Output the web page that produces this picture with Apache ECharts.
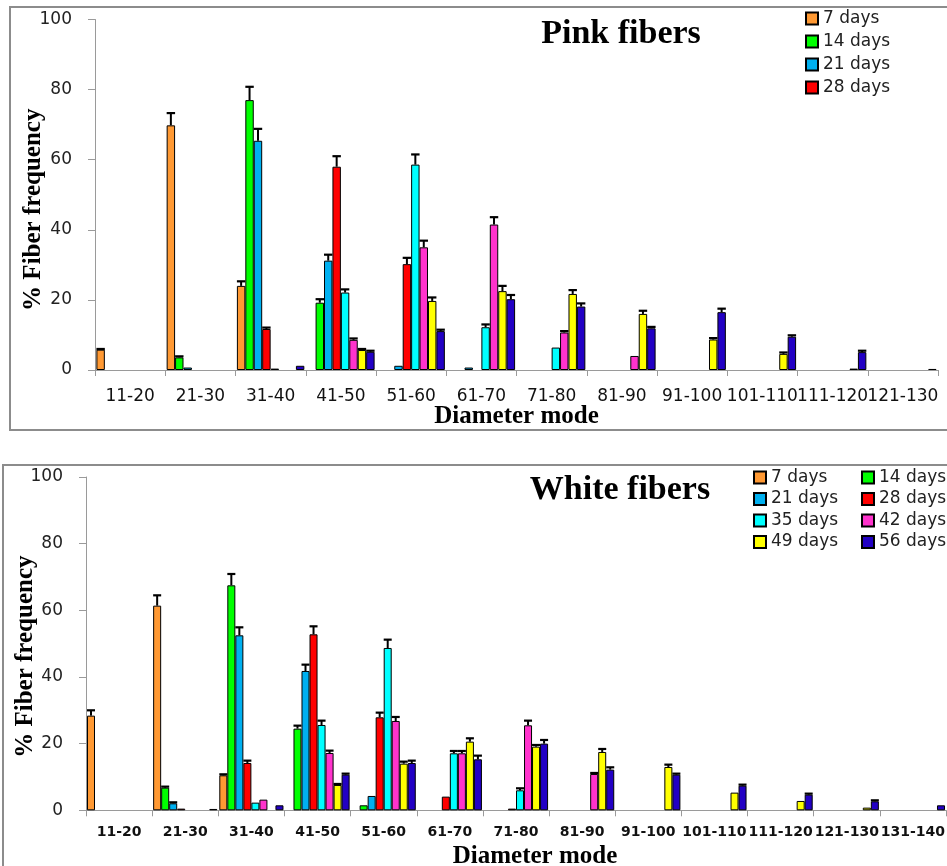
<!DOCTYPE html>
<html>
<head>
<meta charset="utf-8">
<script src="https://cdn.jsdelivr.net/npm/echarts@6/dist/echarts.min.js"></script>
<style>html,body{margin:0;padding:0;background:#fff;}#c{width:947px;height:866px;}</style>
</head>
<body>
<div id="c"></div>
<script>
// ---------- data ----------
const seriesNames = ['7 days','14 days','21 days','28 days','35 days','42 days','49 days','56 days'];
const seriesColors = ['#FF9933','#00FF00','#00B0F0','#FF0000','#00FFFF','#FF33CC','#FFFF00','#2200C4'];

const pinkCategories = ['11-20','21-30','31-40','41-50','51-60','61-70','71-80','81-90','91-100','101-110','111-120','121-130'];
const pink7  = [5.8, 69.8, 24.0, 0, 0, 0, 0, 0, 0, 0, 0, 0];
const pink14 = [0, 3.6, 77.0, 19.2, 0, 0, 0, 0, 0, 0, 0, 0];
const pink21 = [0, 0.7, 65.4, 31.2, 1.2, 0.7, 0, 0, 0, 0, 0, 0];
const pink28 = [0, 0, 11.7, 58.0, 30.2, 0, 0, 0, 0, 0, 0, 0];
const pink35 = [0, 0, 0.4, 22.1, 58.6, 12.2, 6.4, 0, 0, 0, 0, 0];
const pink42 = [0, 0, 0, 8.6, 35.0, 41.5, 10.7, 4.0, 0, 0, 0, 0];
const pink49 = [0, 0, 0, 5.7, 19.7, 22.5, 21.7, 16.0, 8.7, 4.6, 0.4, 0];
const pink56 = [0, 0, 1.2, 5.2, 11.1, 20.2, 18.1, 11.9, 16.5, 9.5, 5.1, 0.3];

const pinkErr7  = [0.2, 3.5, 1.3, null, null, null, null, null, null, null, null, null];
const pinkErr14 = [null, 0.3, 3.8, 1.0, null, null, null, null, null, null, null, null];
const pinkErr21 = [null, null, 3.4, 1.7, null, null, null, null, null, null, null, null];
const pinkErr28 = [null, null, 0.4, 3.0, 1.8, null, null, null, null, null, null, null];
const pinkErr35 = [null, null, null, 0.9, 2.9, 0.8, null, null, null, null, null, null];
const pinkErr42 = [null, null, null, 0.4, 1.9, 2.1, 0.4, null, null, null, null, null];
const pinkErr49 = [null, null, null, 0.3, 1.0, 1.5, 1.1, 0.9, 0.4, 0.4, null, null];
const pinkErr56 = [null, null, null, 0.3, 0.4, 1.2, 0.9, 0.4, 1.0, 0.4, 0.4, null];

const whiteCategories = ['11-20','21-30','31-40','41-50','51-60','61-70','71-80','81-90','91-100','101-110','111-120','121-130','131-140'];
const white7  = [28.4, 61.4, 10.5, 0, 0, 0, 0, 0, 0, 0, 0, 0, 0];
const white14 = [0, 6.8, 67.5, 24.5, 1.5, 0, 0, 0, 0, 0, 0, 0, 0];
const white21 = [0, 2.1, 52.5, 41.8, 4.3, 0, 0, 0, 0, 0, 0, 0, 0];
const white28 = [0, 0.5, 14.2, 52.8, 27.9, 4.1, 0.5, 0, 0, 0, 0, 0, 0];
const white35 = [0, 0, 2.3, 25.6, 48.7, 17.1, 6.0, 0, 0, 0, 0, 0, 0];
const white42 = [0, 0, 3.2, 17.2, 26.8, 17.1, 25.5, 10.9, 0, 0, 0, 0, 0];
const white49 = [0, 0, 0, 7.6, 14.0, 20.6, 19.1, 17.5, 13.0, 5.3, 2.8, 0.8, 0];
const white56 = [0, 0.4, 1.5, 10.7, 14.2, 15.3, 20.0, 12.2, 10.7, 7.4, 4.7, 2.7, 1.5];

const whiteErr7  = [1.6, 3.1, 0.3, null, null, null, null, null, null, null, null, null, null];
const whiteErr14 = [null, 0.3, 3.4, 0.9, null, null, null, null, null, null, null, null, null];
const whiteErr21 = [null, 0.3, 2.4, 1.9, null, null, null, null, null, null, null, null, null];
const whiteErr28 = [null, null, 0.7, 2.4, 1.4, null, null, null, null, null, null, null, null];
const whiteErr35 = [null, null, null, 1.3, 2.5, 0.7, 0.6, null, null, null, null, null, null];
const whiteErr42 = [null, null, null, 0.7, 1.2, 0.7, 1.4, 0.3, null, null, null, null, null];
const whiteErr49 = [null, null, null, 0.3, 0.6, 1.0, 0.5, 0.9, 0.7, null, null, null, null];
const whiteErr56 = [null, null, null, 0.3, 0.7, 1.1, 1.1, 0.7, 0.3, 0.3, 0.3, 0.3, null];

const yTicks = [0, 20, 40, 60, 80, 100];

// ---------- build ----------
const pinkValues = [pink7, pink14, pink21, pink28, pink35, pink42, pink49, pink56];
const pinkErrs = [pinkErr7, pinkErr14, pinkErr21, pinkErr28, pinkErr35, pinkErr42, pinkErr49, pinkErr56];
const whiteValues = [white7, white14, white21, white28, white35, white42, white49, white56];
const whiteErrs = [whiteErr7, whiteErr14, whiteErr21, whiteErr28, whiteErr35, whiteErr42, whiteErr49, whiteErr56];

const GAP = [0.04, 0.03];

function barSeries(values, axis) {
  return values.map((vals, i) => ({
    type: 'bar', name: seriesNames[i], xAxisIndex: axis, yAxisIndex: axis,
    data: vals.map(v => v === 0 ? null : v),
    barGap: '0%', barCategoryGap: (GAP[axis] * 100) + '%',
    itemStyle: { color: seriesColors[i], borderColor: '#000', borderWidth: 1 },
    emphasis: { disabled: true }
  }));
}

function errSeries(values, errs, axis) {
  const data = [];
  values.forEach((vals, s) => vals.forEach((v, c) => {
    const e = errs[s][c];
    if (v > 0 && e !== null) data.push([c, s, v, e]);
  }));
  const n = values.length;
  return {
    type: 'custom', xAxisIndex: axis, yAxisIndex: axis, z: 5, silent: true,
    encode: { x: 0, y: 2 },
    data: data,
    renderItem: function (params, api) {
      const c = api.value(0), s = api.value(1), v = api.value(2), e = api.value(3);
      const catW = api.size([1, 0])[0];
      const groupW = catW * (1 - GAP[axis]);
      const bw = groupW / n;
      const center = api.coord([c, 0])[0];
      const x = center - groupW / 2 + (s + 0.5) * bw;
      const y1 = api.coord([c, v])[1];
      const y2 = api.coord([c, v + e])[1];
      return { type: 'group', children: [
        { type: 'line', shape: { x1: x, y1: y1, x2: x, y2: y2 }, style: { stroke: '#000', lineWidth: 2 } },
        { type: 'line', shape: { x1: x - bw * 0.5, y1: y2, x2: x + bw * 0.5, y2: y2 }, style: { stroke: '#000', lineWidth: 2.2 } }
      ]};
    }
  };
}

const axisGray = '#9a9a9a';
function yAxis(grid, nameGap, pad) {
  return {
    type: 'value', gridIndex: grid, min: yTicks[0], max: yTicks[yTicks.length - 1], interval: yTicks[1] - yTicks[0],
    name: '% Fiber frequency', nameLocation: 'middle', nameGap: nameGap, nameMoveOverlap: false,
    nameTextStyle: { fontFamily: 'Liberation Serif', fontWeight: 'bold', fontSize: 25, color: '#000', padding: pad },
    axisLine: { show: true, lineStyle: { color: axisGray, width: 1 } },
    axisTick: { show: true, length: 7, lineStyle: { color: axisGray } },
    splitLine: { show: false },
    axisLabel: { margin: 23, fontFamily: 'DejaVu Sans', fontSize: 17, color: '#222' }
  };
}
function xAxis(grid, cats, labelStyle, margin, pad) {
  return {
    type: 'category', gridIndex: grid, data: cats,
    name: 'Diameter mode', nameLocation: 'middle', nameGap: 34, nameMoveOverlap: false,
    nameTextStyle: { fontFamily: 'Liberation Serif', fontWeight: 'bold', fontSize: 25, color: '#000', padding: pad },
    axisLine: { show: true, lineStyle: { color: axisGray, width: 1 } },
    axisTick: { show: true, length: 6, lineStyle: { color: axisGray } },
    axisLabel: Object.assign({ interval: 0, margin: margin, color: '#111', hideOverlap: false }, labelStyle)
  };
}

const legendText = { fontFamily: 'DejaVu Sans', fontSize: 17, color: '#222' };
const legendCommon = { orient: 'vertical', icon: 'rect', padding: 0, itemWidth: 12, itemHeight: 12, textStyle: legendText, selectedMode: false };
const option = {
  animation: false,
  backgroundColor: '#fff',
  title: [
    { text: 'Pink fibers', left: 616, top: 12, textAlign: 'center',
      textStyle: { fontFamily: 'Liberation Serif', fontWeight: 'bold', fontSize: 34, color: '#000' } },
    { text: 'White fibers', left: 615, top: 468, textAlign: 'center',
      textStyle: { fontFamily: 'Liberation Serif', fontWeight: 'bold', fontSize: 34, color: '#000' } }
  ],
  legend: [
    Object.assign({ left: 805, top: 10, itemGap: 6, data: seriesNames.slice(0, 4) }, legendCommon),
    Object.assign({ left: 753, top: 469, itemGap: 4.5, data: [seriesNames[0], seriesNames[2], seriesNames[4], seriesNames[6]] }, legendCommon),
    Object.assign({ left: 861, top: 469, itemGap: 4.5, data: [seriesNames[1], seriesNames[3], seriesNames[5], seriesNames[7]] }, legendCommon)
  ],
  grid: [
    { left: 95, top: 19.5, width: 843, height: 350.5, outerBoundsMode: 'none', containLabel: false },
    { left: 86, top: 477, width: 860, height: 333.3, outerBoundsMode: 'none', containLabel: false }
  ],
  xAxis: [
    xAxis(0, pinkCategories, { fontFamily: 'DejaVu Sans', fontSize: 17 }, 18, [0, 0, 0, 0]),
    xAxis(1, whiteCategories, { fontFamily: 'DejaVu Sans', fontSize: 14, fontWeight: 'bold' }, 15, [0, 0, 0, 38])
  ],
  yAxis: [ yAxis(0, 49, [0, 30, 0, 0]), yAxis(1, 48, [0, 26, 0, 0]) ],
  graphic: [
    { type: 'rect', shape: { x: 10, y: 7, width: 960, height: 423 }, style: { fill: 'none', stroke: '#8c8c8c', lineWidth: 2 }, silent: true, z: -1 },
    { type: 'rect', shape: { x: 3, y: 465, width: 970, height: 430 }, style: { fill: 'none', stroke: '#8c8c8c', lineWidth: 2 }, silent: true, z: -1 }
  ],
  series: [].concat(
    barSeries(pinkValues, 0),
    [errSeries(pinkValues, pinkErrs, 0)],
    barSeries(whiteValues, 1),
    [errSeries(whiteValues, whiteErrs, 1)]
  )
};

const chart = echarts.init(document.getElementById('c'), null, { renderer: 'canvas' });
chart.setOption(option);
</script>
</body>
</html>
